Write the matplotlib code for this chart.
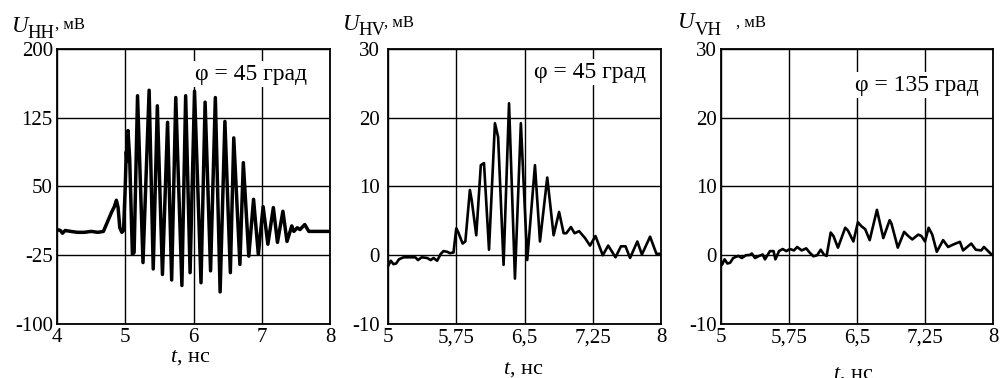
"""Three voltage pulses U_HH, U_HV, U_VH against time t, ns."""

import matplotlib
matplotlib.use("Agg")
import matplotlib.pyplot as plt

plt.rcParams["font.family"] = ["Liberation Serif", "DejaVu Serif"]
plt.rcParams["mathtext.fontset"] = "custom"
plt.rcParams["mathtext.it"] = "Liberation Serif:italic"
plt.rcParams["mathtext.rm"] = "Liberation Serif"
plt.rcParams["axes.unicode_minus"] = False

# Panel 1: U_HH, phi = 45
t_hh = [4.0, 4.05, 4.08, 4.12, 4.2, 4.3, 4.4, 4.5, 4.6, 4.68, 4.72, 4.76,
        4.8, 4.84, 4.87, 4.895, 4.92, 4.95, 4.975, 5.0, 5.015, 5.025, 5.04,
        5.065, 5.105, 5.13, 5.18, 5.26, 5.35, 5.41, 5.47, 5.545, 5.62, 5.68,
        5.74, 5.83, 5.885, 5.95, 6.015, 6.11, 6.17, 6.25, 6.32, 6.39, 6.46,
        6.54, 6.59, 6.68, 6.73, 6.81, 6.88, 6.95, 7.02, 7.09, 7.17, 7.23,
        7.31, 7.37, 7.44, 7.47, 7.52, 7.56, 7.63, 7.69, 7.8, 8.0]
u_hh = [3, 2, -1, 2, 1, 0, 0, 1, 0, 1, 8, 15,
        22, 28, 35, 27, 5, 0, 2, 50, 88, 78, 111,
        80, -24, -22, 149, -33, 155, -40, 138, -46, 120, -52,
        147, -58, 149, -44, 154, -55, 142, -42, 147, -65, 121,
        -44, 103, -35, 76, -26, 36, -24, 28, -13, 27, -11,
        23, -10, 7, 1, 5, 3, 8.5, 1, 1, 1]

# Panel 2: U_HV, phi = 45
t_hv = [5.0, 5.03, 5.06, 5.09, 5.12, 5.17, 5.3, 5.33, 5.37, 5.43, 5.47, 5.5,
        5.54, 5.58, 5.61, 5.65, 5.68, 5.72, 5.75, 5.77, 5.82, 5.85, 5.9,
        5.92, 5.97, 6.02, 6.055, 6.11, 6.175, 6.21, 6.27, 6.33, 6.395, 6.46,
        6.53, 6.615, 6.67, 6.75, 6.82, 6.88, 6.93, 6.96, 7.01, 7.05, 7.1,
        7.165, 7.22, 7.28, 7.36, 7.42, 7.5, 7.56, 7.61, 7.66, 7.74, 7.79,
        7.88, 7.95, 8.0]
u_hv = [-1.6, -0.8, -1.3, -1.2, -0.6, -0.3, -0.3, -0.7, -0.3, -0.4, -0.7,
        -0.4, -0.8, 0.2, 0.6, 0.5, 0.3, 0.4, 3.9, 3.4, 1.7, 2.0, 9.5,
        8.0, 2.9, 13.1, 13.4, 0.8, 19.2, 17.2, -1.4, 22.1, -3.4, 19.2,
        -0.7, 13.1, 2.0, 11.3, 2.9, 6.3, 3.2, 3.2, 4.1, 3.2, 3.5,
        2.5, 1.4, 2.8, 0.0, 1.4, -0.3, 1.3, 1.3, -0.4, 2.0, 0.1,
        2.7, 0.2, 0.2]

# Panel 3: U_VH, phi = 135
t_vh = [5.0, 5.01, 5.04, 5.07, 5.1, 5.135, 5.19, 5.23, 5.275, 5.32, 5.34,
        5.375, 5.42, 5.46, 5.485, 5.54, 5.58, 5.6, 5.64, 5.68, 5.72, 5.76,
        5.805, 5.84, 5.89, 5.94, 5.98, 6.02, 6.06, 6.1, 6.135, 6.165, 6.21,
        6.24, 6.29, 6.37, 6.4, 6.46, 6.51, 6.55, 6.59, 6.64, 6.72, 6.79,
        6.86, 6.88, 6.95, 7.02, 7.065, 7.11, 7.175, 7.21, 7.25, 7.29, 7.33,
        7.38, 7.45, 7.505, 7.56, 7.635, 7.67, 7.76, 7.81, 7.87, 7.9, 7.985,
        8.0]
u_vh = [-0.9, -1.4, -0.6, -1.2, -1.1, -0.4, -0.1, -0.4, 0.0, 0.05, 0.25,
        -0.4, -0.1, 0.1, -0.6, 0.6, 0.6, -0.6, 0.6, 0.9, 0.6, 0.9,
        0.7, 1.2, 0.7, 1.0, 0.35, -0.15, 0.0, 0.8, 0.1, -0.1, 3.3,
        2.8, 1.1, 4.0, 3.6, 2.0, 4.8, 4.2, 3.8, 2.2, 6.6, 2.5,
        5.1, 4.6, 1.1, 3.4, 2.8, 2.3, 3.0, 2.8, 2.0, 4.0, 3.0,
        0.5, 2.2, 1.2, 1.55, 1.95, 0.7, 1.7, 0.8, 0.7, 1.2, 0.1,
        0.0]

x_ticks_1 = [4, 5, 6, 7, 8]
x_labels_1 = ["4", "5", "6", "7", "8"]
y_ticks_1 = [-100, -25, 50, 125, 200]
x_ticks_23 = [5, 5.75, 6.5, 7.25, 8]
x_labels_23 = ["5", "5,75", "6,5", "7,25", "8"]
y_ticks_23 = [-10, 0, 10, 20, 30]

W, H = 1000, 378


def px(x, y):
    """Pixel position (from top left) to figure fraction."""
    return x / W, 1 - y / H


def make_panel(fig, rect, t, u, xt, xl, yt, phi_text, phi_pos, lw, ypad):
    ax = fig.add_axes(rect)
    ax.plot(t, u, color="black", lw=lw)
    ax.set_xlim(xt[0], xt[-1])
    ax.set_ylim(yt[0], yt[-1])
    ax.set_xticks(xt)
    ax.set_xticklabels(xl)
    ax.set_yticks(yt)
    ax.set_yticklabels([str(v) for v in yt])
    ax.grid(True, color="black", lw=1.0)
    ax.tick_params(length=0, labelsize=15, pad=3)
    ax.tick_params(axis="y", pad=ypad)
    for s in ax.spines.values():
        s.set_linewidth(1.3)
    ax.text(phi_pos[0], phi_pos[1], phi_text, transform=ax.transAxes,
            fontsize=17, ha="left", va="center", zorder=5,
            bbox=dict(facecolor="white", edgecolor="none", pad=2))
    return ax


fig = plt.figure(figsize=(W / 100, H / 100), dpi=100)

make_panel(fig, [0.057, 0.1429, 0.273, 0.7275], t_hh, u_hh, x_ticks_1,
           x_labels_1, y_ticks_1, "φ = 45 град", (0.505, 0.909), 2.5, 3)
make_panel(fig, [0.388, 0.1429, 0.273, 0.7275], t_hv, u_hv, x_ticks_23,
           x_labels_23, y_ticks_23, "φ = 45 град", (0.535, 0.916), 1.9, 6)
make_panel(fig, [0.721, 0.1429, 0.272, 0.7275], t_vh, u_vh, x_ticks_23,
           x_labels_23, y_ticks_23, "φ = 135 град", (0.493, 0.869), 1.9, 3)

# Axis titles: U with subscript and units
y_titles = [("HH", 12, 32, 27, 38, 55, 29),
            ("HV", 343, 30, 358, 35, 384, 27),
            ("VH", 678, 28, 695, 35, 736, 27)]
for sub, ux, uy, sx, sy, mx, my in y_titles:
    fig.text(*px(ux, uy), "U", fontsize=16.5, style="italic", va="baseline")
    fig.text(*px(sx, sy), sub, fontsize=13.5, va="baseline")
    fig.text(*px(mx, my), ", мВ", fontsize=12, va="baseline")

# Time labels under each panel
for cx, by in [(190, 362), (523, 374), (853, 379)]:
    fig.text(*px(cx, by), "$t$, нс", fontsize=16, ha="center",
             va="baseline")

fig.savefig("out.png", dpi=100)
